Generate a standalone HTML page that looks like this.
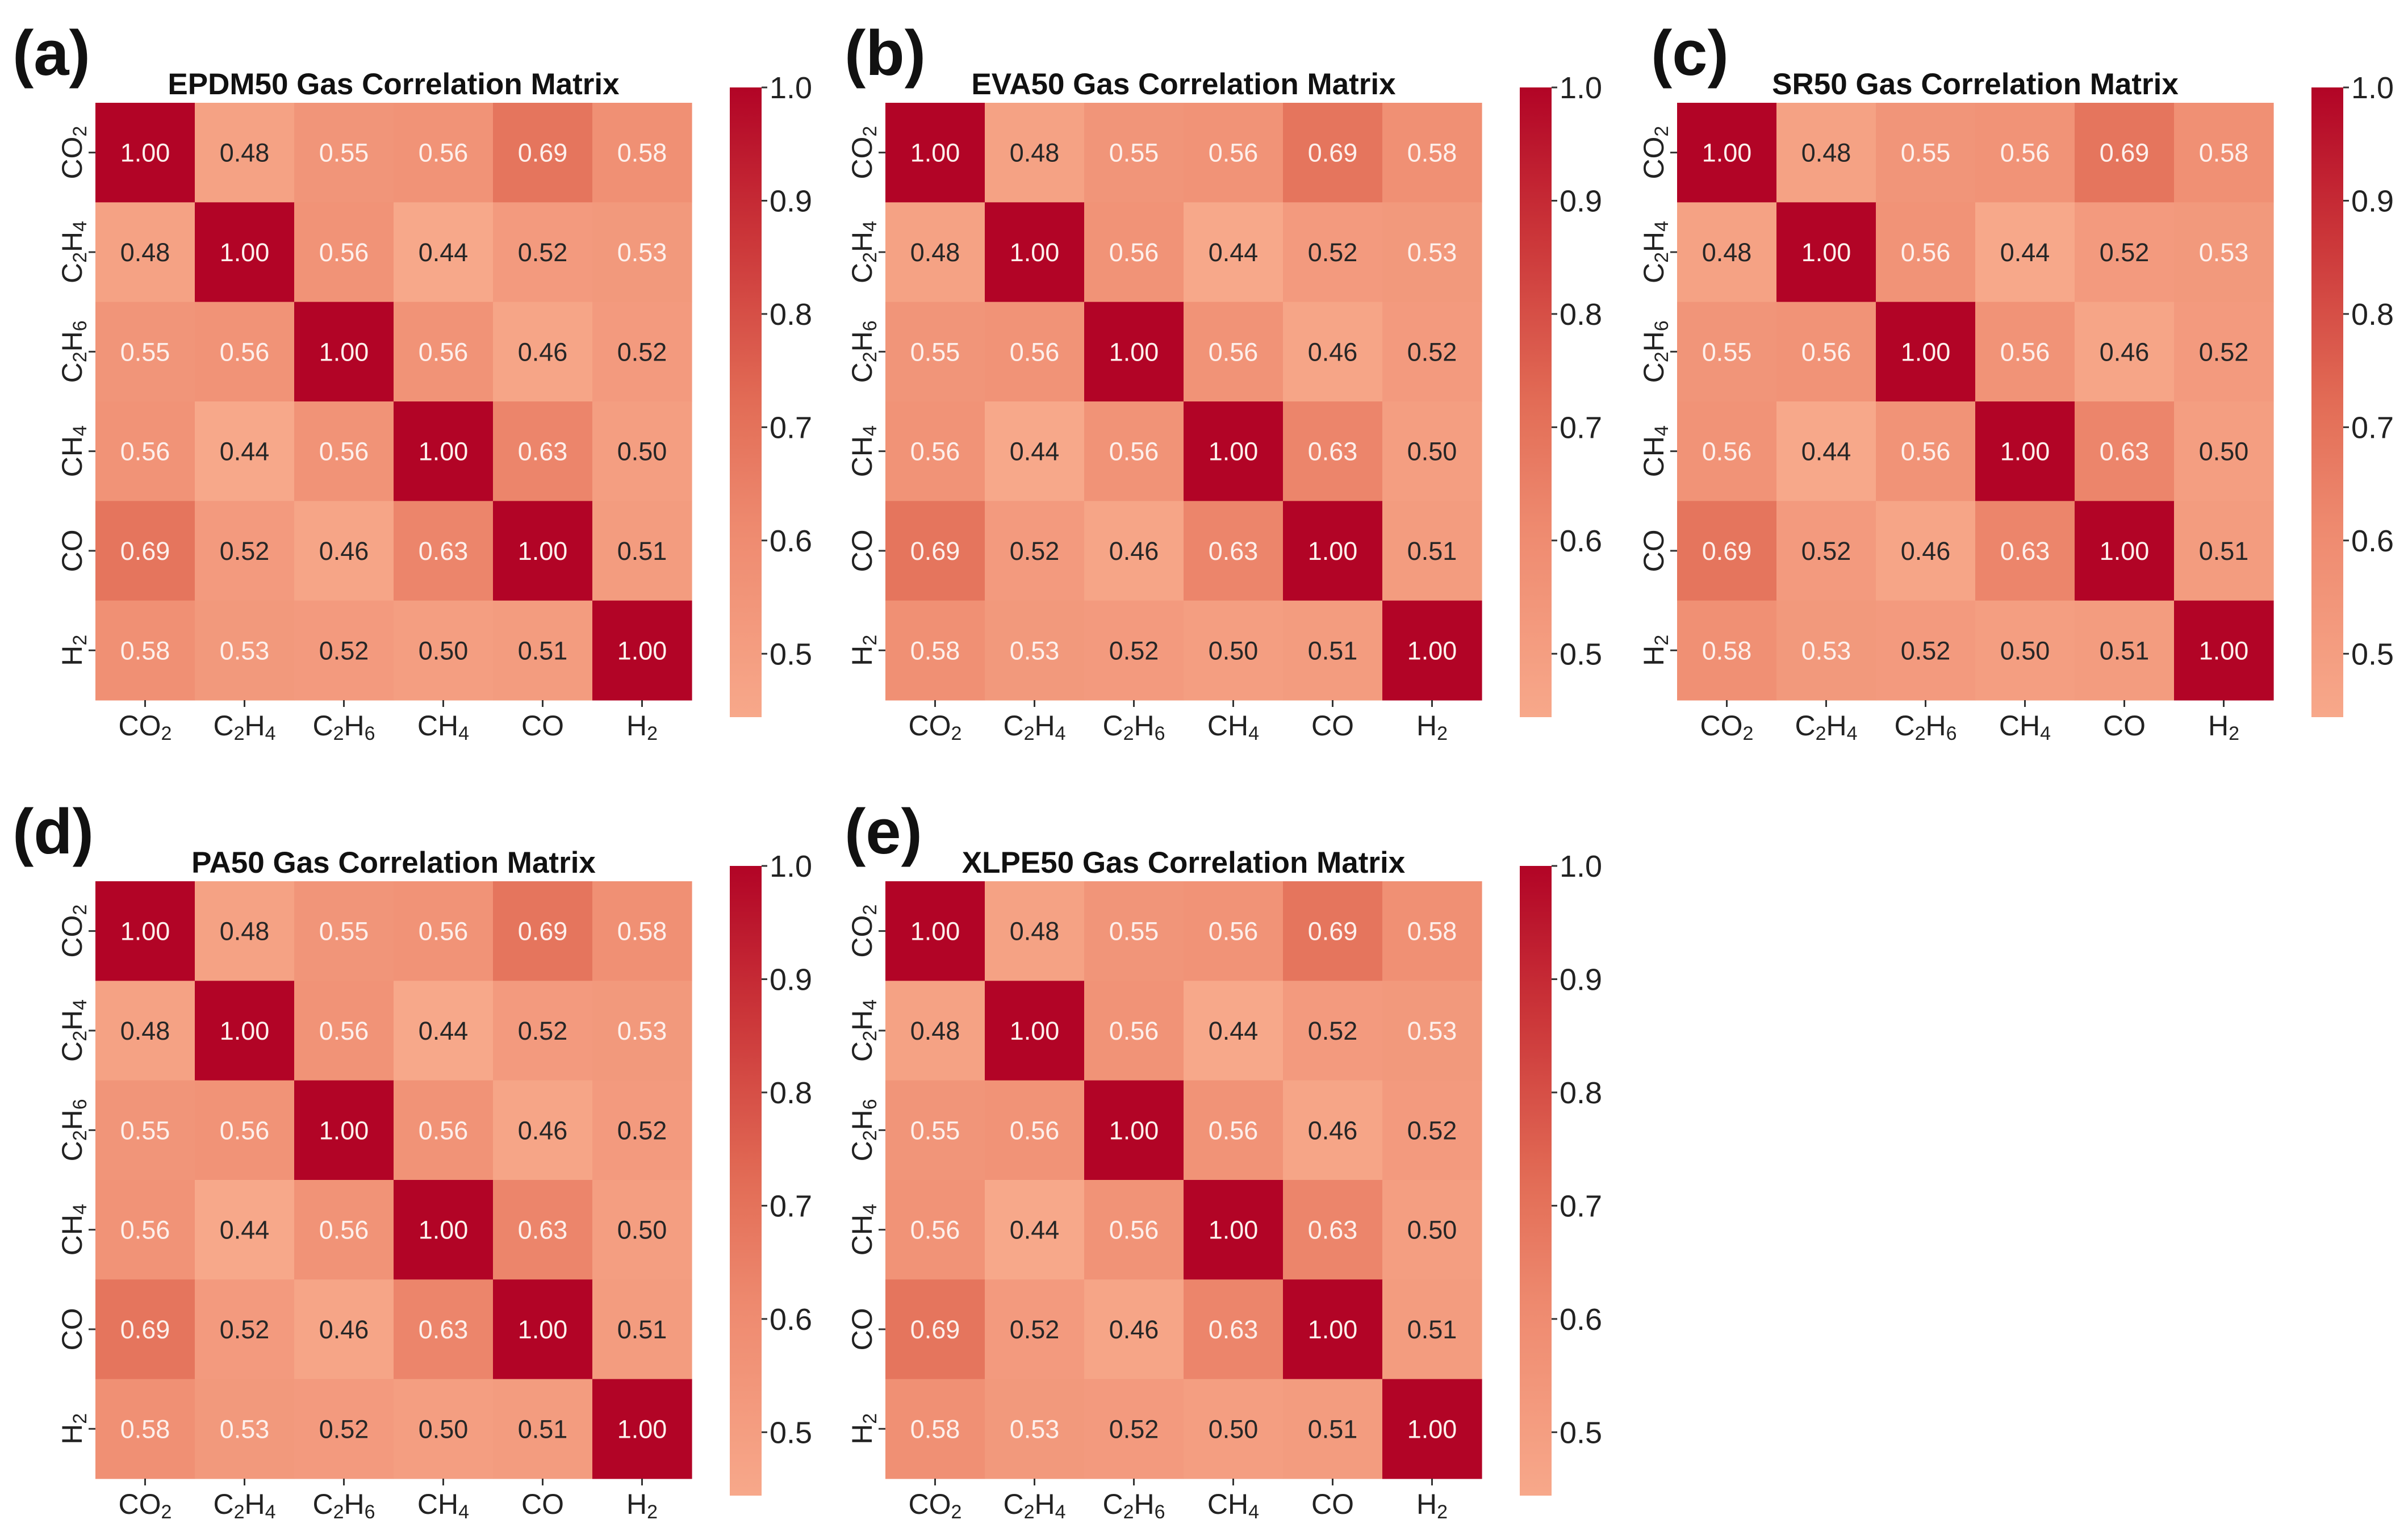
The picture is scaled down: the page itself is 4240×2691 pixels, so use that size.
<!DOCTYPE html>
<html><head><meta charset="utf-8"><style>
html,body{margin:0;padding:0;background:#fff;}
svg{display:block;}
text{font-family:"Liberation Sans",sans-serif;}
</style></head><body>
<svg id="fig" width="4240" height="2691" viewBox="0 0 4240 2691" xmlns="http://www.w3.org/2000/svg"></svg>
<script>
const gases = [["CO","2",""],["C","2","H","4"],["C","2","H","6"],["CH","4"],["CO"],["H","2"]];
const gasNames = ["CO2","C2H4","C2H6","CH4","CO","H2"];
const row0 = [1.00,0.48,0.55,0.56,0.69,0.58];
const row1 = [0.48,1.00,0.56,0.44,0.52,0.53];
const row2 = [0.55,0.56,1.00,0.56,0.46,0.52];
const row3 = [0.56,0.44,0.56,1.00,0.63,0.50];
const row4 = [0.69,0.52,0.46,0.63,1.00,0.51];
const row5 = [0.58,0.53,0.52,0.50,0.51,1.00];
const matrix = [row0,row1,row2,row3,row4,row5];
const titles = ["EPDM50 Gas Correlation Matrix","EVA50 Gas Correlation Matrix","SR50 Gas Correlation Matrix","PA50 Gas Correlation Matrix","XLPE50 Gas Correlation Matrix"];
const letters = ["(a)","(b)","(c)","(d)","(e)"];
const cbTicks = [0.5,0.6,0.7,0.8,0.9,1.0];
const vmin = 0.444, vmax = 1.0;

const NS="http://www.w3.org/2000/svg";
const svg=document.getElementById('fig');
function mk(tag,attrs,parent){const e=document.createElementNS(NS,tag);for(const k in attrs)e.setAttribute(k,attrs[k]);(parent||svg).appendChild(e);return e;}
function lerp(a,b,t){return a+(b-a)*t;}
const stops=[[0,[247,168,138]],[0.3,[238,138,111]],[0.5,[226,108,86]],[0.75,[204,56,58]],[1,[178,4,38]]];
function color(v){let t=(v-vmin)/(vmax-vmin);t=Math.max(0,Math.min(1,t));
 for(let i=0;i<stops.length-1;i++){const a=stops[i],b=stops[i+1];if(t<=b[0]){const u=(t-a[0])/(b[0]-a[0]);return `rgb(${Math.round(lerp(a[1][0],b[1][0],u))},${Math.round(lerp(a[1][1],b[1][1],u))},${Math.round(lerp(a[1][2],b[1][2],u))})`;}}
 return 'rgb(178,4,38)';}
function label(g,parentText){
 g.forEach((p,i)=>{if(!p)return;const ts=mk('tspan',{},parentText);ts.textContent=p;
  if(i%2===1){ts.setAttribute('font-size','34');ts.setAttribute('baseline-shift','-8');}});
}
const offsets=[[0,0],[1391,0],[2785,0],[0,1371],[1391,1371]];
const letterX=[22,96,122,22,96];
const HX=168,HY=181,HW=1050,HH=1052,CBX=1285,CBW=56,CBT=154,CBB=1263;
offsets.forEach((o,pi)=>{
 const ox=o[0],oy=o[1];
 const g=mk('g',{transform:`translate(${ox},${oy})`});
 
 
 const L=mk('text',{x:letterX[pi],y:132,'font-size':112,'font-weight':'bold',fill:'#111'},g);L.textContent=letters[pi];
 
 const T=mk('text',{x:HX+HW/2,y:166,'font-size':53,'font-weight':'bold','text-anchor':'middle',fill:'#111'},g);T.textContent=titles[pi];
 
 const cw=HW/gasNames.length,ch=HH/gasNames.length;
 matrix.forEach((row,r)=>row.forEach((v,c)=>{
  const x=HX+c*cw,y=HY+r*ch;
  const rc=mk('rect',{x:x,y:y,width:cw+0.6,height:ch+0.6,fill:color(v)},g);
  
  
  const t=mk('text',{x:x+cw/2,y:y+ch/2+16,'font-size':45,'text-anchor':'middle',fill:v>0.525?'#fdf0ec':'#262626'},g);
  t.textContent=v.toFixed(2);
  
  
 }));
 gases.forEach((gs,i)=>{
  const cx=HX+(i+0.5)*cw;
  mk('line',{x1:cx,y1:HY+HH,x2:cx,y2:HY+HH+12,stroke:'#333','stroke-width':3},g);
  const t=mk('text',{x:cx,y:HY+HH+62,'font-size':50,'text-anchor':'middle',fill:'#222'},g);
  label(gs,t);
  const cy=HY+(i+0.5)*ch;
  mk('line',{x1:HX-12,y1:cy,x2:HX,y2:cy,stroke:'#333','stroke-width':3},g);
  const ty=mk('text',{x:0,y:0,'font-size':50,'text-anchor':'middle',fill:'#222',transform:`translate(${HX-24},${cy}) rotate(-90)`},g);
  label(gs,ty);
 });
 const gid='cb'+pi;
 const defs=mk('defs',{},g);
 const lg=mk('linearGradient',{id:gid,x1:0,y1:1,x2:0,y2:0},defs);
 for(let k=0;k<=20;k++){mk('stop',{offset:k/20,'stop-color':color(vmin+(vmax-vmin)*k/20)},lg);}
 const cb=mk('rect',{x:CBX,y:CBT,width:CBW,height:CBB-CBT,fill:`url(#${gid})`},g);
 
 cbTicks.forEach(tv=>{
  const y=CBB-(tv-vmin)/(vmax-vmin)*(CBB-CBT);
  mk('line',{x1:CBX+CBW,y1:y,x2:CBX+CBW+10,y2:y,stroke:'#333','stroke-width':3},g);
  const t=mk('text',{x:CBX+CBW+14,y:y+19,'font-size':54,fill:'#222'},g);
  t.textContent=tv.toFixed(1);
  
 });
});
</script>
</body></html>
